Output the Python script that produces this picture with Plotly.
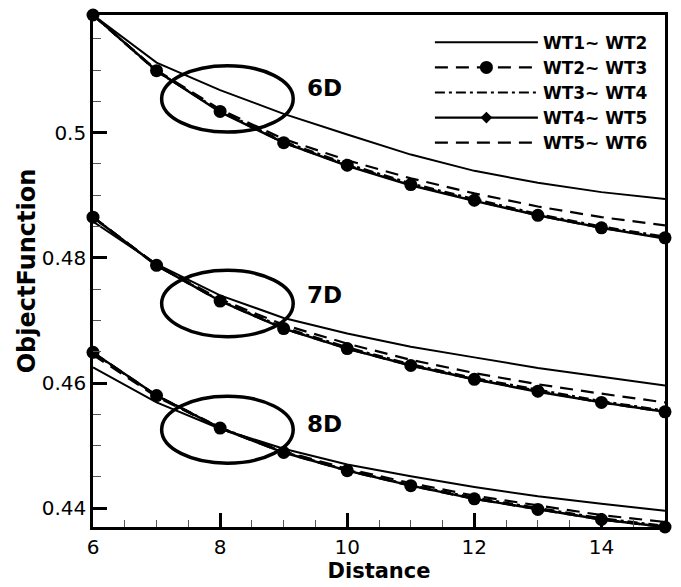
import plotly.graph_objects as go

# ---------------- data ----------------
distance = [6, 7, 8, 9, 10, 11, 12, 13, 14, 15]

series_names = ["WT1~ WT2", "WT2~ WT3", "WT3~ WT4", "WT4~ WT5", "WT5~ WT6"]

# 6D group
d6_wt1 = [0.5188, 0.5112, 0.5068, 0.5030, 0.4997, 0.4965, 0.4939, 0.4920, 0.4905, 0.4894]
d6_wt2 = [0.5188, 0.5099, 0.5034, 0.4984, 0.4948, 0.4917, 0.4892, 0.4868, 0.4848, 0.4832]
d6_wt3 = [0.5188, 0.5098, 0.5035, 0.4986, 0.4950, 0.4919, 0.4894, 0.4870, 0.4850, 0.4834]
d6_wt4 = [0.5188, 0.5099, 0.5033, 0.4984, 0.4947, 0.4916, 0.4891, 0.4868, 0.4848, 0.4831]
d6_wt5 = [0.5188, 0.5100, 0.5037, 0.4990, 0.4956, 0.4927, 0.4903, 0.4882, 0.4865, 0.4852]

# 7D group
d7_wt1 = [0.4858, 0.4790, 0.4740, 0.4704, 0.4679, 0.4658, 0.4641, 0.4624, 0.4610, 0.4596]
d7_wt2 = [0.4865, 0.4788, 0.4731, 0.4687, 0.4655, 0.4628, 0.4606, 0.4587, 0.4569, 0.4554]
d7_wt3 = [0.4865, 0.4788, 0.4732, 0.4689, 0.4657, 0.4630, 0.4608, 0.4589, 0.4571, 0.4556]
d7_wt4 = [0.4865, 0.4788, 0.4731, 0.4687, 0.4655, 0.4628, 0.4606, 0.4586, 0.4569, 0.4554]
d7_wt5 = [0.4865, 0.4789, 0.4734, 0.4693, 0.4663, 0.4637, 0.4616, 0.4598, 0.4583, 0.4569]

# 8D group
d8_wt1 = [0.4625, 0.4569, 0.4527, 0.4495, 0.4470, 0.4451, 0.4434, 0.4419, 0.4407, 0.4396]
d8_wt2 = [0.4649, 0.4580, 0.4528, 0.4489, 0.4460, 0.4436, 0.4415, 0.4398, 0.4382, 0.4370]
d8_wt3 = [0.4648, 0.4580, 0.4529, 0.4490, 0.4461, 0.4437, 0.4417, 0.4400, 0.4384, 0.4372]
d8_wt4 = [0.4649, 0.4580, 0.4528, 0.4489, 0.4460, 0.4436, 0.4415, 0.4398, 0.4382, 0.4370]
d8_wt5 = [0.4645, 0.4578, 0.4528, 0.4491, 0.4463, 0.4440, 0.4420, 0.4404, 0.4389, 0.4378]

groups = [
    [d6_wt1, d6_wt2, d6_wt3, d6_wt4, d6_wt5],
    [d7_wt1, d7_wt2, d7_wt3, d7_wt4, d7_wt5],
    [d8_wt1, d8_wt2, d8_wt3, d8_wt4, d8_wt5],
]

group_labels = ["6D", "7D", "8D"]
label_x = [9.65, 9.65, 9.65]
label_y = [0.5071, 0.4741, 0.4534]
ellipse_x = [7.08, 9.15]
ellipse_y = [(0.5001, 0.5107), (0.4674, 0.4780), (0.4472, 0.4579)]

x_ticks = [6, 8, 10, 12, 14]
y_ticks = [0.44, 0.46, 0.48, 0.5]
y_ticklabels = ["0.44", "0.46", "0.48", "0.5"]

# ---------------- styles ----------------
FONT = "DejaVu Sans, Arial"
styles = [
    dict(line=dict(color="black", width=2.0, dash="solid"), mode="lines", marker=None),
    dict(line=dict(color="black", width=2.4, dash="13px,8px"), mode="lines+markers",
         marker=dict(symbol="circle", size=13, color="black")),
    dict(line=dict(color="black", width=2.2, dash="10px,4px,3px,4px"), mode="lines", marker=None),
    dict(line=dict(color="black", width=2.4, dash="solid"), mode="lines+markers",
         marker=dict(symbol="diamond", size=9, color="black")),
    dict(line=dict(color="black", width=2.2, dash="13px,8px"), mode="lines", marker=None),
]
draw_order = [0, 2, 3, 4, 1]  # circles drawn last (on top)

fig = go.Figure()
for si in draw_order:
    st = styles[si]
    for gi, grp in enumerate(groups):
        kw = dict(
            x=distance, y=grp[si], mode=st["mode"], line=st["line"],
            name="<b>%s</b>" % series_names[si], legendgroup=series_names[si],
            showlegend=(gi == 0), legendrank=si + 1, cliponaxis=False,
        )
        if st["marker"] is not None:
            kw["marker"] = st["marker"]
        fig.add_trace(go.Scatter(**kw))

for (y0, y1) in ellipse_y:
    fig.add_shape(type="circle", xref="x", yref="y",
                  x0=ellipse_x[0], x1=ellipse_x[1], y0=y0, y1=y1,
                  line=dict(color="black", width=3.5))

for lab, lx, ly in zip(group_labels, label_x, label_y):
    fig.add_annotation(x=lx, y=ly, text="<b>%s</b>" % lab, showarrow=False,
                       font=dict(family=FONT, size=23, color="black"))

axis_font = dict(family=FONT, size=20, color="black")
fig.update_layout(
    width=681, height=587,
    margin=dict(l=93, r=16, t=13, b=52),
    paper_bgcolor="white", plot_bgcolor="white",
    font=axis_font,
    showlegend=True,
    legend=dict(
        x=0.589, y=0.981, xanchor="left", yanchor="top",
        bgcolor="rgba(0,0,0,0)", borderwidth=0,
        font=dict(family=FONT, size=17, color="black"),
        itemwidth=103, tracegroupgap=0,
        traceorder="normal",
    ),
    xaxis=dict(
        range=[6, 15], tickmode="array", tickvals=x_ticks,
        ticks="inside", ticklen=14, tickwidth=2.5, tickcolor="black",
        showline=True, linewidth=2.6, linecolor="black", mirror=True,
        showgrid=False, zeroline=False,
        minor=dict(dtick=0.5, tick0=6, ticks="inside", ticklen=7, tickwidth=1.2,
                   tickcolor="#555", showgrid=False),
        title=dict(text="<b>Distance</b>", font=dict(family=FONT, size=21),
                   standoff=2),
        tickfont=axis_font,
    ),
    yaxis=dict(
        range=[0.4370, 0.5188], tickmode="array", tickvals=y_ticks, ticktext=y_ticklabels,
        ticks="inside", ticklen=14, tickwidth=2.5, tickcolor="black",
        showline=True, linewidth=2.6, linecolor="black", mirror=True,
        showgrid=False, zeroline=False,
        minor=dict(dtick=0.005, tick0=0.44, ticks="inside", ticklen=8, tickwidth=1.2,
                   tickcolor="#555", showgrid=False),
        title=dict(text="<b>ObjectFunction</b>", font=dict(family=FONT, size=24),
                   standoff=0),
        tickfont=axis_font,
    ),
)

fig.write_html("out.html")
